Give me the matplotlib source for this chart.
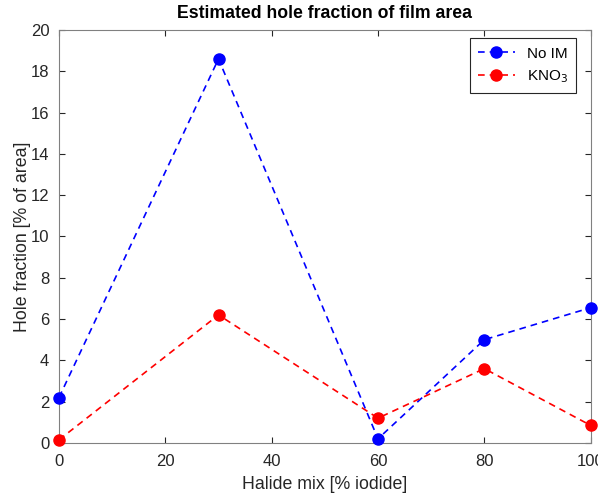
import numpy as np
import matplotlib

matplotlib.use("Agg")
import matplotlib.pyplot as plt

plt.rcParams["font.family"] = ["Liberation Sans", "DejaVu Sans"]

halide_mix = [0, 30, 60, 80, 100]
no_im = [2.2, 18.6, 0.2, 5.0, 6.55]
kno3 = [0.15, 6.2, 1.2, 3.6, 0.85]

AX_C = "#262626"

fig = plt.figure(figsize=(5.98, 4.96), dpi=100)
ax = fig.add_axes([0.0987, 0.107, 0.889, 0.8325])
ax.plot(halide_mix, no_im, "--o", color="blue", lw=1.2, ms=8, label="No IM",
        dashes=(4, 3), clip_on=False, zorder=3)
ax.plot(halide_mix, kno3, "--o", color="red", lw=1.2, ms=8, label="KNO$_3$",
        dashes=(4, 3), clip_on=False, zorder=3)

ax.set_xlim(0, 100)
ax.set_ylim(0, 20)
ax.set_xticks(np.arange(0, 101, 20))
ax.set_yticks(np.arange(0, 21, 2))
ax.tick_params(direction="in", top=True, right=True, colors=AX_C, labelsize=12, length=4)
ax.tick_params(axis="x", pad=8)
ax.tick_params(axis="y", pad=7)
for s in ax.spines.values():
    s.set_color("#808080")
    s.set_linewidth(0.8)
ax.set_xlabel("Halide mix [% iodide]", fontsize=12.8, color=AX_C, labelpad=5)
ax.set_ylabel("Hole fraction [% of area]", fontsize=12.8, color=AX_C, labelpad=0)
ax.set_title("Estimated hole fraction of film area", fontsize=12.7, fontweight="bold", color="black", pad=9)
leg = ax.legend(loc="upper right", bbox_to_anchor=(0.973, 0.98), fontsize=11, fancybox=False,
                edgecolor=AX_C, framealpha=1, handlelength=2.4, borderaxespad=0,
                labelspacing=0.5, borderpad=0.55)
leg.get_frame().set_linewidth(0.8)

fig.savefig("out.png", dpi=100)
